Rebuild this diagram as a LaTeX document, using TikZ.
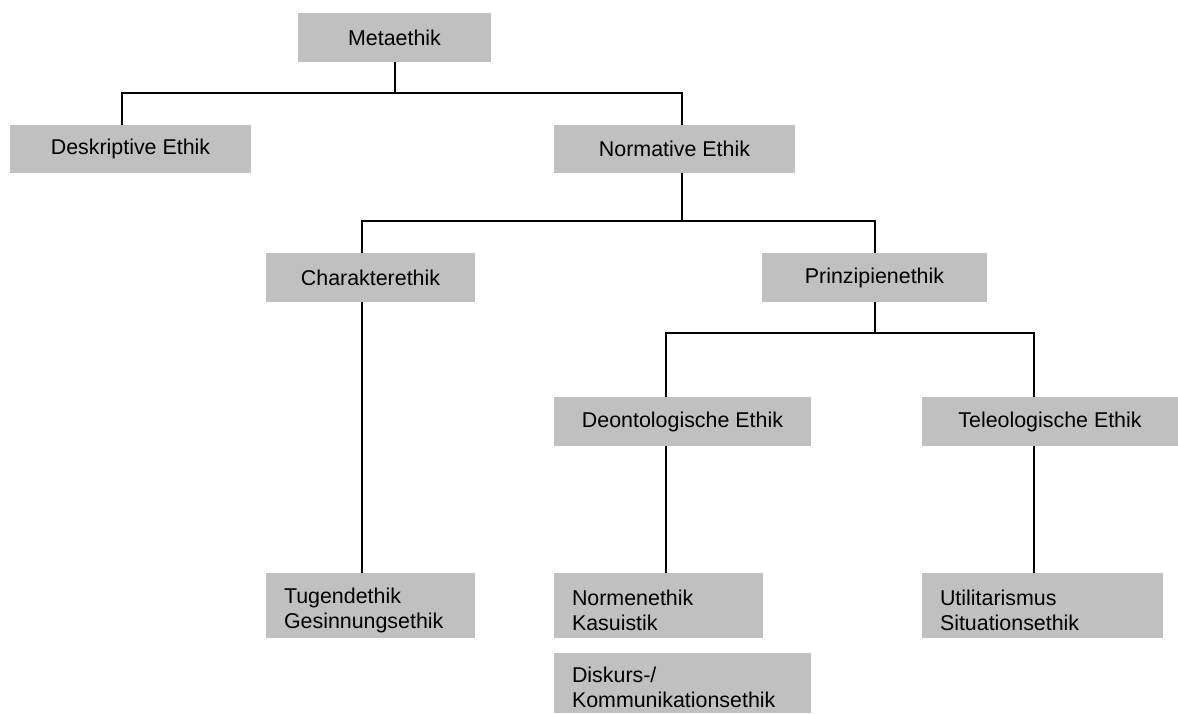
\documentclass[tikz,border=0pt]{standalone}
\usepackage{fontspec}
\setmainfont{Liberation Sans}
\definecolor{chartgray}{RGB}{192,192,192}

\begin{document}
\begin{tikzpicture}[x=0.5pt,y=-0.5pt,
    box/.style={fill=chartgray,inner sep=0pt,font=\fontsize{10.7}{12.5}\selectfont},
    listbox/.style={box,align=left,inner xsep=9pt,text width=#1,
      execute at begin node={\rule{0pt}{12.5pt}}},
    link/.style={line width=1pt}]
\useasboundingbox (0,0) rectangle (1178,713);
\node[box,minimum width=96.5pt,minimum height=24.5pt] (meta) at (394.5,37.5) {Metaethik};
\node[box,minimum width=120.5pt,minimum height=24pt] (desk) at (130.5,149) {Deskriptive Ethik};
\node[box,minimum width=120.5pt,minimum height=24pt] (norm) at (674.5,149) {Normative Ethik};
\node[box,minimum width=104.5pt,minimum height=24.5pt] (char) at (370.5,277.5) {Charakterethik};
\node[box,minimum width=112.5pt,minimum height=24.5pt] (prinz) at (874.5,277.5) {Prinzipienethik};
\node[box,minimum width=128.5pt,minimum height=24.5pt] (deon) at (682.5,421.5) {Deontologische Ethik};
\node[box,minimum width=128pt,minimum height=24.5pt] (tele) at (1050,421.5) {Teleologische Ethik};
\node[listbox=86.5pt,minimum height=32.5pt] (tugend) at (370.5,605.5) {Tugendethik\\Gesinnungsethik};
\node[listbox=86.5pt,minimum height=32.5pt] (normen) at (658.5,605.5) {Normenethik\\Kasuistik};
\node[listbox=102.5pt,minimum height=32.5pt] (util) at (1042.5,605.5) {Utilitarismus\\Situationsethik};
\node[listbox=110.5pt,minimum height=30pt] (disk) at (682.5,683) {Diskurs-/\\Kommunikationsethik};

\draw[link] (meta.south) -- ++(0,31) -| ([xshift=-4.25pt]desk.north);
\draw[link] (meta.south) -- ++(0,31) -| ([xshift=3.75pt]norm.north);
\draw[link] ([xshift=3.75pt]norm.south) -- ++(0,48) -| ([xshift=-4.25pt]char.north);
\draw[link] ([xshift=3.75pt]norm.south) -- ++(0,48) -| (prinz.north);
\draw[link] (prinz.south) -- ++(0,31) -| ([xshift=-8.25pt]deon.north);
\draw[link] (prinz.south) -- ++(0,31) -| ([xshift=-8pt]tele.north);
\draw[link] ([xshift=-4.25pt]char.south) -- ([xshift=-4.25pt]tugend.north);
\draw[link] ([xshift=-8.25pt]deon.south) -- ([xshift=3.75pt]normen.north);
\draw[link] ([xshift=-8pt]tele.south) -- ([xshift=-4.25pt]util.north);
\end{tikzpicture}
\end{document}
